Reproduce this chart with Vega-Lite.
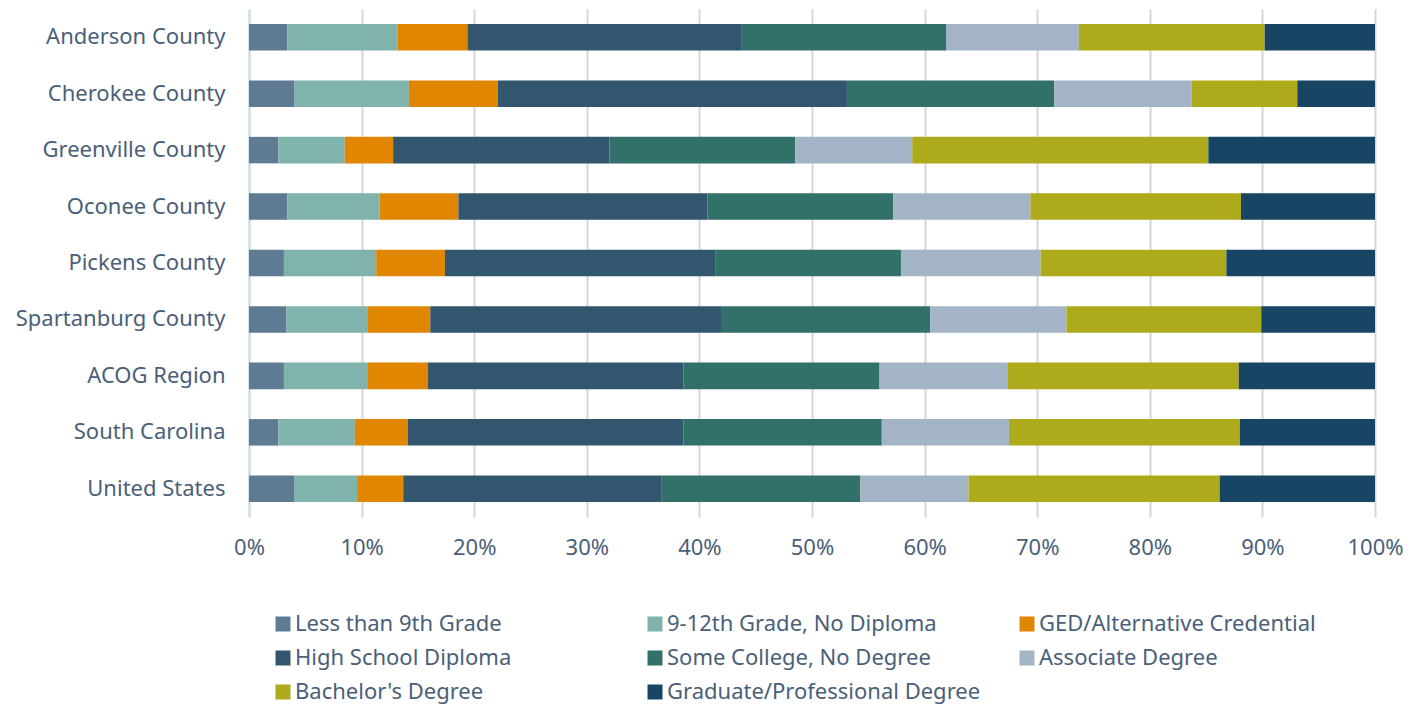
{
  "$schema": "https://vega.github.io/schema/vega-lite/v6.json",
  "width": 1126,
  "height": 508,
  "autosize": {"type": "none"},
  "padding": {"left": 249, "top": 9, "right": 46, "bottom": 189},
  "background": "white",
  "config": {
    "view": {"stroke": null},
    "font": "Noto Sans",
    "axis": {"labelFont": "Noto Sans", "labelColor": "#4a6078", "labelFontSize": 22},
    "legend": {"labelFont": "Noto Sans", "labelColor": "#4a6078", "labelFontSize": 22}
  },
  "datasets": {
    "levels": [
      {"level": "Less than 9th Grade", "rank": 1},
      {"level": "9-12th Grade, No Diploma", "rank": 2},
      {"level": "GED/Alternative Credential", "rank": 3},
      {"level": "High School Diploma", "rank": 4},
      {"level": "Some College, No Degree", "rank": 5},
      {"level": "Associate Degree", "rank": 6},
      {"level": "Bachelor's Degree", "rank": 7},
      {"level": "Graduate/Professional Degree", "rank": 8}
    ],
    "edu": [
      {"area": "Anderson County", "level": "Less than 9th Grade", "pct": 3.4},
      {"area": "Anderson County", "level": "9-12th Grade, No Diploma", "pct": 9.8},
      {"area": "Anderson County", "level": "GED/Alternative Credential", "pct": 6.2},
      {"area": "Anderson County", "level": "High School Diploma", "pct": 24.3},
      {"area": "Anderson County", "level": "Some College, No Degree", "pct": 18.2},
      {"area": "Anderson County", "level": "Associate Degree", "pct": 11.8},
      {"area": "Anderson County", "level": "Bachelor's Degree", "pct": 16.5},
      {"area": "Anderson County", "level": "Graduate/Professional Degree", "pct": 9.8},

      {"area": "Cherokee County", "level": "Less than 9th Grade", "pct": 4.0},
      {"area": "Cherokee County", "level": "9-12th Grade, No Diploma", "pct": 10.2},
      {"area": "Cherokee County", "level": "GED/Alternative Credential", "pct": 7.9},
      {"area": "Cherokee County", "level": "High School Diploma", "pct": 31.0},
      {"area": "Cherokee County", "level": "Some College, No Degree", "pct": 18.4},
      {"area": "Cherokee County", "level": "Associate Degree", "pct": 12.2},
      {"area": "Cherokee County", "level": "Bachelor's Degree", "pct": 9.4},
      {"area": "Cherokee County", "level": "Graduate/Professional Degree", "pct": 6.9},

      {"area": "Greenville County", "level": "Less than 9th Grade", "pct": 2.6},
      {"area": "Greenville County", "level": "9-12th Grade, No Diploma", "pct": 5.9},
      {"area": "Greenville County", "level": "GED/Alternative Credential", "pct": 4.3},
      {"area": "Greenville County", "level": "High School Diploma", "pct": 19.2},
      {"area": "Greenville County", "level": "Some College, No Degree", "pct": 16.5},
      {"area": "Greenville County", "level": "Associate Degree", "pct": 10.4},
      {"area": "Greenville County", "level": "Bachelor's Degree", "pct": 26.3},
      {"area": "Greenville County", "level": "Graduate/Professional Degree", "pct": 14.8},

      {"area": "Oconee County", "level": "Less than 9th Grade", "pct": 3.4},
      {"area": "Oconee County", "level": "9-12th Grade, No Diploma", "pct": 8.2},
      {"area": "Oconee County", "level": "GED/Alternative Credential", "pct": 7.0},
      {"area": "Oconee County", "level": "High School Diploma", "pct": 22.1},
      {"area": "Oconee County", "level": "Some College, No Degree", "pct": 16.5},
      {"area": "Oconee County", "level": "Associate Degree", "pct": 12.2},
      {"area": "Oconee County", "level": "Bachelor's Degree", "pct": 18.7},
      {"area": "Oconee County", "level": "Graduate/Professional Degree", "pct": 11.9},

      {"area": "Pickens County", "level": "Less than 9th Grade", "pct": 3.1},
      {"area": "Pickens County", "level": "9-12th Grade, No Diploma", "pct": 8.2},
      {"area": "Pickens County", "level": "GED/Alternative Credential", "pct": 6.1},
      {"area": "Pickens County", "level": "High School Diploma", "pct": 24.0},
      {"area": "Pickens County", "level": "Some College, No Degree", "pct": 16.5},
      {"area": "Pickens County", "level": "Associate Degree", "pct": 12.4},
      {"area": "Pickens County", "level": "Bachelor's Degree", "pct": 16.5},
      {"area": "Pickens County", "level": "Graduate/Professional Degree", "pct": 13.2},

      {"area": "Spartanburg County", "level": "Less than 9th Grade", "pct": 3.3},
      {"area": "Spartanburg County", "level": "9-12th Grade, No Diploma", "pct": 7.2},
      {"area": "Spartanburg County", "level": "GED/Alternative Credential", "pct": 5.6},
      {"area": "Spartanburg County", "level": "High School Diploma", "pct": 25.9},
      {"area": "Spartanburg County", "level": "Some College, No Degree", "pct": 18.5},
      {"area": "Spartanburg County", "level": "Associate Degree", "pct": 12.1},
      {"area": "Spartanburg County", "level": "Bachelor's Degree", "pct": 17.3},
      {"area": "Spartanburg County", "level": "Graduate/Professional Degree", "pct": 10.1},

      {"area": "ACOG Region", "level": "Less than 9th Grade", "pct": 3.1},
      {"area": "ACOG Region", "level": "9-12th Grade, No Diploma", "pct": 7.4},
      {"area": "ACOG Region", "level": "GED/Alternative Credential", "pct": 5.4},
      {"area": "ACOG Region", "level": "High School Diploma", "pct": 22.7},
      {"area": "ACOG Region", "level": "Some College, No Degree", "pct": 17.4},
      {"area": "ACOG Region", "level": "Associate Degree", "pct": 11.4},
      {"area": "ACOG Region", "level": "Bachelor's Degree", "pct": 20.5},
      {"area": "ACOG Region", "level": "Graduate/Professional Degree", "pct": 12.1},

      {"area": "South Carolina", "level": "Less than 9th Grade", "pct": 2.6},
      {"area": "South Carolina", "level": "9-12th Grade, No Diploma", "pct": 6.8},
      {"area": "South Carolina", "level": "GED/Alternative Credential", "pct": 4.7},
      {"area": "South Carolina", "level": "High School Diploma", "pct": 24.5},
      {"area": "South Carolina", "level": "Some College, No Degree", "pct": 17.6},
      {"area": "South Carolina", "level": "Associate Degree", "pct": 11.3},
      {"area": "South Carolina", "level": "Bachelor's Degree", "pct": 20.5},
      {"area": "South Carolina", "level": "Graduate/Professional Degree", "pct": 12.0},

      {"area": "United States", "level": "Less than 9th Grade", "pct": 4.0},
      {"area": "United States", "level": "9-12th Grade, No Diploma", "pct": 5.6},
      {"area": "United States", "level": "GED/Alternative Credential", "pct": 4.1},
      {"area": "United States", "level": "High School Diploma", "pct": 22.9},
      {"area": "United States", "level": "Some College, No Degree", "pct": 17.7},
      {"area": "United States", "level": "Associate Degree", "pct": 9.6},
      {"area": "United States", "level": "Bachelor's Degree", "pct": 22.3},
      {"area": "United States", "level": "Graduate/Professional Degree", "pct": 13.8}
    ]
  },
  "data": {"name": "edu"},
  "transform": [
    {"lookup": "level", "from": {"data": {"name": "levels"}, "key": "level", "fields": ["rank"]}}
  ],
  "mark": {"type": "bar"},
  "encoding": {
    "y": {
      "field": "area",
      "type": "nominal",
      "sort": null,
      "scale": {"paddingInner": 0.53, "paddingOuter": 0.265},
      "axis": {
        "title": null,
        "ticks": false,
        "domainColor": "#c6dff1",
        "domainWidth": 2,
        "labelPadding": 24,
        "labelLimit": 400,
        "grid": false
      }
    },
    "x": {
      "field": "pct",
      "type": "quantitative",
      "stack": "normalize",
      "scale": {"domain": [0, 1], "nice": false},
      "axis": {
        "title": null,
        "values": [0, 0.1, 0.2, 0.3, 0.4, 0.5, 0.6, 0.7, 0.8, 0.9, 1],
        "format": ".0%",
        "ticks": false,
        "domain": false,
        "grid": true,
        "gridColor": "#d6d6d6",
        "gridWidth": 2,
        "labelFlush": false,
        "labelPadding": 20
      }
    },
    "order": {"field": "rank", "type": "quantitative"},
    "color": {
      "field": "level",
      "type": "nominal",
      "scale": {
        "domain": ["Less than 9th Grade", "9-12th Grade, No Diploma", "GED/Alternative Credential", "High School Diploma", "Some College, No Degree", "Associate Degree", "Bachelor's Degree", "Graduate/Professional Degree"],
        "range": ["#5f7a93", "#7fb3ac", "#e08600", "#33566f", "#32716a", "#a3b4c7", "#adaa1c", "#174563"]
      },
      "legend": {
        "title": null,
        "orient": "none",
        "legendX": 23,
        "legendY": 604,
        "direction": "horizontal",
        "columns": 3,
        "gridAlign": "all",
        "columnPadding": 35,
        "rowPadding": 12,
        "symbolType": "square",
        "symbolSize": 225,
        "symbolStrokeWidth": 0,
        "labelOffset": 1,
        "labelLimit": 400
      }
    }
  }
}
